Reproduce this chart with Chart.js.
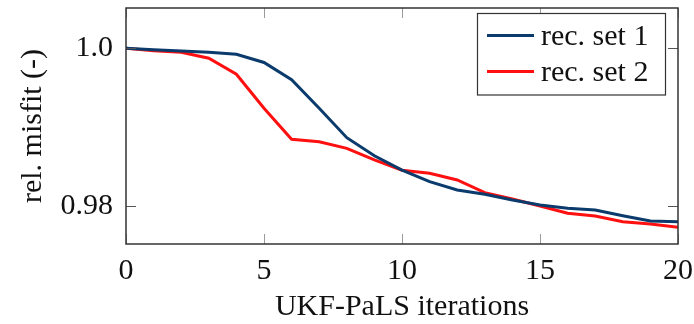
<!DOCTYPE html>
<html>
<head>
<meta charset="utf-8">
<script src="https://cdn.jsdelivr.net/npm/chart.js@4/dist/chart.umd.min.js"></script>
<style>
  html, body { margin: 0; padding: 0; background: #ffffff; }
  #wrap { width: 694px; height: 324px; }
</style>
</head>
<body>
<div id="wrap"><canvas id="c" width="694" height="324"></canvas></div>
<script>
// Iteration index of the UKF-PaLS run
const iterations = [0, 1, 2, 3, 4, 5, 6, 7, 8, 9, 10, 11, 12, 13, 14, 15, 16, 17, 18, 19, 20];

// Relative misfit per iteration, for each receiver set
const recSet1 = [1.0, 0.9998, 0.99966, 0.9995, 0.99924, 0.9982, 0.9960, 0.99238, 0.98864, 0.98635,
                 0.98451, 0.98305, 0.98200, 0.98145, 0.98072, 0.98009, 0.97967, 0.97945, 0.97873,
                 0.97806, 0.97797];
const recSet2 = [1.0, 0.9997, 0.9995, 0.99873, 0.9967, 0.99238, 0.98844, 0.98813, 0.98729, 0.98581,
                 0.98451, 0.98412, 0.98327, 0.98165, 0.98085, 0.97996, 0.97903, 0.97869, 0.97797,
                 0.97767, 0.97725];

const seriesNames = ['rec. set 1', 'rec. set 2'];
const xTickValues = [0, 5, 10, 15, 20];
const yTickValues = [0.98, 1.0];
const yTickLabels = ['0.98', '1.0'];

const FONT = '"Liberation Serif", "Times New Roman", serif';
const FS = 30;
const BLUE = '#0a3b6c';
const RED = '#ff1010';

const toPoints = (ys) => iterations.map((x, i) => ({ x: x, y: ys[i] }));

// Frame, inward tick marks and the boxed legend in the upper right
const decorations = {
  id: 'decorations',
  afterDatasetsDraw(chart) {
    const ctx = chart.ctx;
    const a = chart.chartArea;
    const xs = chart.scales.x, ys = chart.scales.y;
    const TL = 10;
    ctx.save();
    // x ticks (bottom and top)
    ctx.strokeStyle = '#9a9a9a';
    ctx.lineWidth = 1;
    xs.ticks.forEach(t => {
      const px = Math.round(xs.getPixelForValue(t.value)) + 0.5;
      ctx.beginPath();
      ctx.moveTo(px, a.bottom); ctx.lineTo(px, a.bottom - TL);
      ctx.moveTo(px, a.top); ctx.lineTo(px, a.top + TL);
      ctx.stroke();
    });
    // y ticks (left and right)
    ctx.strokeStyle = '#555555';
    ys.ticks.forEach(t => {
      const py = Math.round(ys.getPixelForValue(t.value)) + 0.5;
      ctx.beginPath();
      ctx.moveTo(a.left, py); ctx.lineTo(a.left + TL, py);
      ctx.moveTo(a.right, py); ctx.lineTo(a.right - TL, py);
      ctx.stroke();
    });
    // frame
    ctx.strokeStyle = '#333333';
    ctx.lineWidth = 1.5;
    ctx.strokeRect(a.left, a.top, a.right - a.left, a.bottom - a.top);

    // legend
    const bx = 477.5, by = 13.5, bw = 188, bh = 81.5;
    ctx.fillStyle = '#ffffff';
    ctx.fillRect(bx, by, bw, bh);
    ctx.strokeStyle = '#333333';
    ctx.lineWidth = 1.2;
    ctx.strokeRect(bx, by, bw, bh);
    ctx.font = FS + 'px ' + FONT;
    ctx.textBaseline = 'alphabetic';
    ctx.textAlign = 'left';
    chart.data.datasets.forEach((ds, i) => {
      const cy = 35.5 + i * 36;
      ctx.strokeStyle = ds.borderColor;
      ctx.lineWidth = 3;
      ctx.beginPath();
      ctx.moveTo(487, cy); ctx.lineTo(534, cy);
      ctx.stroke();
      ctx.fillStyle = '#111111';
      ctx.fillText(ds.label, 541, cy + 9);
    });
    ctx.restore();
  }
};

new Chart(document.getElementById('c'), {
  type: 'line',
  data: {
    datasets: [
      { label: seriesNames[0], data: toPoints(recSet1), borderColor: BLUE, borderWidth: 3,
        pointRadius: 0, fill: false, tension: 0 },
      { label: seriesNames[1], data: toPoints(recSet2), borderColor: RED, borderWidth: 3,
        pointRadius: 0, fill: false, tension: 0 }
    ]
  },
  options: {
    responsive: false,
    animation: false,
    devicePixelRatio: 1,
    layout: { padding: { top: 8, right: 16, left: 0, bottom: 0 } },
    plugins: { legend: { display: false }, tooltip: { enabled: false } },
    scales: {
      x: {
        type: 'linear', min: 0, max: 20,
        afterBuildTicks: (s) => { s.ticks = xTickValues.map(v => ({ value: v })); },
        afterFit: (s) => { s.height = 80; s.paddingLeft = 0; s.paddingRight = 0; },
        grid: { display: false, drawTicks: false },
        border: { display: false },
        ticks: { padding: 9, color: '#111111', font: { family: FONT, size: FS },
                 maxRotation: 0, callback: (v) => String(v) },
        title: { display: true, text: 'UKF-PaLS iterations', color: '#111111',
                 font: { family: FONT, size: FS }, padding: { top: 0, bottom: -1 } }
      },
      y: {
        type: 'linear', min: 0.97513, max: 1.00512,
        afterBuildTicks: (s) => { s.ticks = yTickValues.map(v => ({ value: v })); },
        afterFit: (s) => { s.width = 126; s.paddingTop = 0; s.paddingBottom = 0; },
        grid: { display: false, drawTicks: false },
        border: { display: false },
        ticks: { padding: 13, color: '#111111', font: { family: FONT, size: FS },
                 callback: (v, i) => yTickLabels[i] },
        title: { display: true, text: 'rel. misfit (-)', color: '#111111',
                 font: { family: FONT, size: FS }, padding: { top: 15, bottom: 15 } }
      }
    }
  },
  plugins: [decorations]
});
</script>
</body>
</html>
